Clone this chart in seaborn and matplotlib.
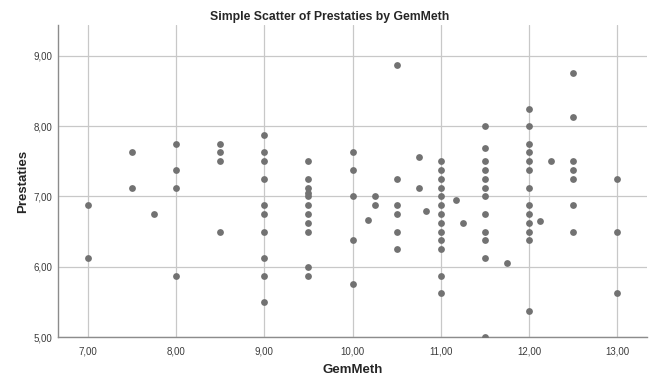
import matplotlib
matplotlib.use("Agg")
import matplotlib.pyplot as plt
from matplotlib.ticker import FuncFormatter, MultipleLocator
import seaborn as sns
import pandas as pd

# Average grade (GemMeth) per student and their performance score (Prestaties)
gem_meth = (
    [7.0] * 2 + [7.5] * 2 + [7.75] + [8.0] * 4 + [8.5] * 4
    + [9.0] * 10 + [9.5] * 11 + [10.0] * 5 + [10.17] + [10.25] * 2
    + [10.5] * 6 + [10.75] * 2 + [10.83] + [11.0] * 13 + [11.17] + [11.25]
    + [11.5] * 12 + [11.75] + [12.0] * 13 + [12.12] + [12.25]
    + [12.5] * 7 + [13.0] * 3
)
prestaties = [
    6.875, 6.125,
    7.625, 7.125,
    6.75,
    7.75, 7.375, 7.125, 5.875,
    7.75, 7.625, 7.5, 6.5,
    7.875, 7.625, 7.5, 7.25, 6.875, 6.75, 6.5, 6.125, 5.875, 5.5,
    7.5, 7.25, 7.125, 7.05, 7.0, 6.875, 6.75, 6.625, 6.5, 6.0, 5.875,
    7.625, 7.375, 7.0, 6.375, 5.75,
    6.67,
    7.0, 6.875,
    8.875, 7.25, 6.875, 6.75, 6.5, 6.25,
    7.56, 7.125,
    6.79,
    7.5, 7.375, 7.25, 7.125, 7.0, 6.875, 6.75, 6.625, 6.5, 6.375, 6.25, 5.875, 5.625,
    6.95,
    6.625,
    8.0, 7.69, 7.5, 7.375, 7.25, 7.125, 7.0, 6.75, 6.5, 6.375, 6.125, 5.0,
    6.06,
    8.25, 8.0, 7.75, 7.625, 7.5, 7.375, 7.125, 6.875, 6.75, 6.625, 6.5, 6.375, 5.375,
    6.65,
    7.5,
    8.75, 8.125, 7.5, 7.375, 7.25, 6.875, 6.5,
    7.25, 6.5, 5.625,
]

df = pd.DataFrame({"GemMeth": gem_meth, "Prestaties": prestaties})

sns.set_style("white")
plt.rcParams["font.family"] = ["Liberation Sans", "DejaVu Sans"]

fig = plt.figure(figsize=(6.59, 3.83), dpi=100)
ax = fig.add_axes([0.088, 0.12, 0.894, 0.815])

sns.scatterplot(data=df, x="GemMeth", y="Prestaties", ax=ax,
                color="#727272", s=24, linewidth=0, zorder=3)

ax.set_xlim(6.66, 13.34)
ax.set_ylim(5.0, 9.44)
ax.xaxis.set_major_locator(MultipleLocator(1))
ax.yaxis.set_major_locator(MultipleLocator(1))
comma = FuncFormatter(lambda v, _: f"{v:.2f}".replace(".", ","))
ax.xaxis.set_major_formatter(comma)
ax.yaxis.set_major_formatter(comma)

ax.grid(True, color="#c8c8c8", linewidth=0.9)
ax.set_axisbelow(True)
for side in ("top", "right"):
    ax.spines[side].set_visible(False)
for side in ("left", "bottom"):
    ax.spines[side].set_color("#8c8c8c")
    ax.spines[side].set_linewidth(1.0)

ax.tick_params(axis="both", length=0, labelsize=7, labelcolor="#3c3c3c")
ax.tick_params(axis="x", pad=7)
ax.tick_params(axis="y", pad=4)

ax.set_xlabel("GemMeth", fontsize=9.5, fontweight="bold", labelpad=5)
ax.set_ylabel("Prestaties", fontsize=9.5, fontweight="bold", labelpad=3)
fig.suptitle("Simple Scatter of Prestaties by GemMeth", x=0.5, y=0.955,
             va="center", fontsize=8.8, fontweight="bold")

fig.savefig("out.png", dpi=100)
